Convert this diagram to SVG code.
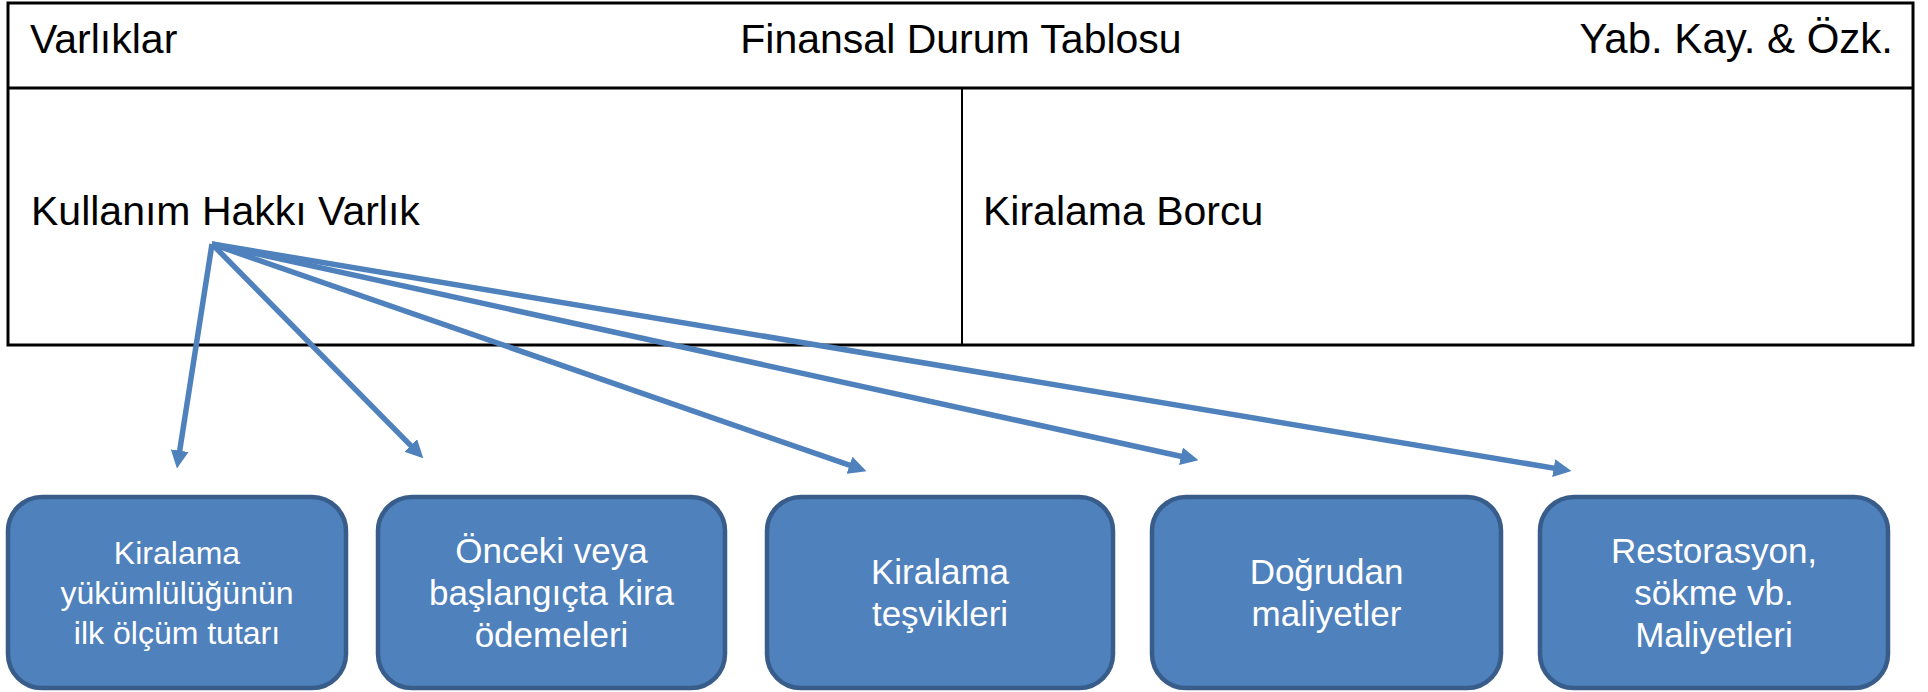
<svg xmlns="http://www.w3.org/2000/svg" width="1928" height="692" viewBox="0 0 1928 692">
<style>
.tbl{fill:none;stroke:#000;stroke-width:3}
.hdr{font-family:"Liberation Sans",Arial,sans-serif;font-size:41px;fill:#000}
.box{fill:#4F81BD;stroke:#385D8A;stroke-width:4.5}
.bt{font-family:"Liberation Sans",Arial,sans-serif;font-size:35px;fill:#fff;text-anchor:middle}
.bt1{font-size:32px}
.con{fill:none;stroke:#4F81BD;stroke-width:5.5}
</style>
<defs>
<marker id="ah" viewBox="0 0 10 10" refX="5" refY="5" markerWidth="18" markerHeight="18" markerUnits="userSpaceOnUse" orient="auto">
<path d="M0,0 L10,5 L0,10 z" fill="#4F81BD"/>
</marker>
</defs>
<rect width="1928" height="692" fill="#fff"/>
<g id="table">
<rect class="tbl" x="8" y="3" width="1905" height="342"/>
<line class="tbl" x1="8" y1="88" x2="1913" y2="88"/>
<line x1="962" y1="88" x2="962" y2="345" stroke="#000" stroke-width="2"/>
<text class="hdr" x="30" y="53">Varlıklar</text>
<text class="hdr" x="961" y="53" text-anchor="middle">Finansal Durum Tablosu</text>
<text class="hdr" x="1893" y="53" text-anchor="end" style="font-size:42px">Yab. Kay. &amp; Özk.</text>
<text id="kullanim" class="hdr" x="31" y="225">Kullanım Hakkı Varlık</text>
<text id="borcu" class="hdr" x="983" y="225">Kiralama Borcu</text>
</g>
<g id="connectors">
<line class="con" x1="212" y1="244" x2="178.3" y2="459.6" marker-end="url(#ah)"/>
<line class="con" x1="212" y1="244" x2="417" y2="451.9" marker-end="url(#ah)"/>
<line class="con" x1="212" y1="244" x2="858" y2="468.2" marker-end="url(#ah)"/>
<line class="con" x1="212" y1="244" x2="1189.7" y2="458.2" marker-end="url(#ah)"/>
<line class="con" x1="212" y1="244" x2="1562.6" y2="469.6" marker-end="url(#ah)"/>
</g>
<g id="node1">
<rect class="box" x="8" y="497" width="338" height="191" rx="34"/>
<text class="bt bt1" x="177" y="564">Kiralama</text>
<text class="bt bt1" x="177" y="604">yükümlülüğünün</text>
<text class="bt bt1" x="177" y="644">ilk ölçüm tutarı</text>
</g>
<g id="node2">
<rect class="box" x="378" y="497" width="347" height="191" rx="34"/>
<text class="bt" x="551.5" y="563">Önceki veya</text>
<text class="bt" x="551.5" y="605">başlangıçta kira</text>
<text class="bt" x="551.5" y="647">ödemeleri</text>
</g>
<g id="node3">
<rect class="box" x="767" y="497" width="346" height="191" rx="34"/>
<text class="bt" x="940" y="584">Kiralama</text>
<text class="bt" x="940" y="626">teşvikleri</text>
</g>
<g id="node4">
<rect class="box" x="1152" y="497" width="349" height="191" rx="34"/>
<text class="bt" x="1326.5" y="584">Doğrudan</text>
<text class="bt" x="1326.5" y="626">maliyetler</text>
</g>
<g id="node5">
<rect class="box" x="1540" y="497" width="348" height="191" rx="34"/>
<text class="bt" x="1714" y="563">Restorasyon,</text>
<text class="bt" x="1714" y="605">sökme vb.</text>
<text class="bt" x="1714" y="647">Maliyetleri</text>
</g>
</svg>
